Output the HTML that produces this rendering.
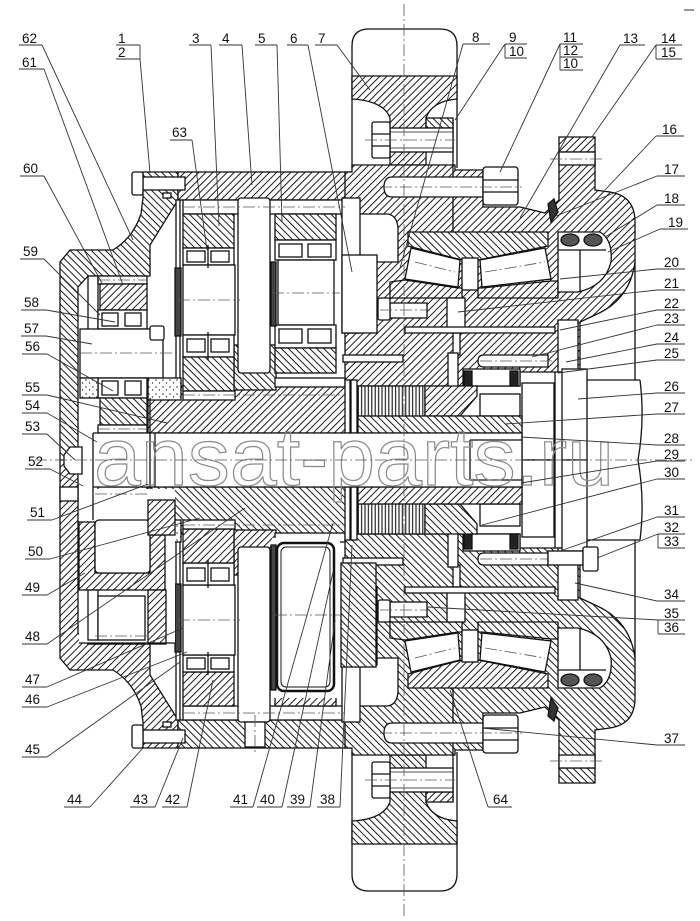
<!DOCTYPE html>
<html><head><meta charset="utf-8">
<style>
html,body{margin:0;padding:0;background:#fff;}
svg{display:block;}
.t text{font-family:"Liberation Sans",sans-serif;font-size:13.5px;fill:#111;stroke:none;}
.c{stroke:#555;stroke-width:0.8;stroke-dasharray:12 3 2 3;fill:none;}
</style></head><body>
<svg width="700" height="921" viewBox="0 0 700 921" xmlns="http://www.w3.org/2000/svg">
<defs>
<pattern id="h" width="5" height="5" patternUnits="userSpaceOnUse" patternTransform="rotate(45)"><rect width="5" height="5" fill="#fff"/><line x1="2.5" y1="-1" x2="2.5" y2="6" stroke="#1a1a1a" stroke-width="1"/></pattern>
<pattern id="k" width="5" height="5" patternUnits="userSpaceOnUse" patternTransform="rotate(-45)"><rect width="5" height="5" fill="#fff"/><line x1="2.5" y1="-1" x2="2.5" y2="6" stroke="#1a1a1a" stroke-width="1"/></pattern>
<pattern id="v" width="3.4" height="10" patternUnits="userSpaceOnUse"><rect width="3.4" height="10" fill="#fff"/><line x1="1.2" y1="0" x2="1.2" y2="10" stroke="#111" stroke-width="1.1"/></pattern>
<pattern id="dt" width="7" height="7" patternUnits="userSpaceOnUse"><rect width="7" height="7" fill="#fff"/><circle cx="2" cy="2" r="0.8" fill="#333"/><circle cx="5.5" cy="5" r="0.7" fill="#333"/></pattern>
</defs>
<rect width="700" height="921" fill="#fff"/>

<g id="top" stroke="#111" stroke-width="1.3">
<path d="M352,168 L352,46 Q352,29 369,29 L440,29 Q457,29 457,46 L457,168" fill="#fff"/>
<path d="M352,76 L457,76 L457,99 Q432,101 426,118 L426,165 L390,165 L390,118 Q384,101 352,99 Z" fill="url(#h)"/>
<path d="M60,460 L60,262 L70,250 L113,250 Q133,238 141,214 L143,198 L143,172 L178,172 L178,200 L150,245 L150,276 L88,276 L78,287 L78,460 Z" fill="url(#k)"/>
<rect x="178" y="172" width="176" height="28" fill="url(#h)"/>
<path d="M345,172 L352,172 L352,165 L455,165 L455,170 L483,170 L483,207 L520,207 L545,213 L559,200 L559,137 L595,137 L595,190 L610,192 Q635,196 635,222 L635,262 Q630,300 595,315 L580,322 L580,372 L520,372 L520,386 L345,386 Z" fill="url(#h)"/>
<line x1="559" y1="152" x2="595" y2="152"/>
<rect x="559" y="152" width="36" height="13" fill="#fff"/>
<line x1="453" y1="120" x2="453" y2="232"/>
<rect x="426" y="118" width="27" height="10" fill="url(#k)"/>
<rect x="390" y="128" width="63" height="24" fill="#fff"/>
<line x1="390" y1="132" x2="453" y2="132" stroke-width="0.7"/>
<line x1="390" y1="148" x2="453" y2="148" stroke-width="0.7"/>
<rect x="372" y="122" width="18" height="36" rx="2" fill="#fff"/>
<line x1="372" y1="134" x2="390" y2="134"/><line x1="372" y1="146" x2="390" y2="146"/>
<path d="M392,177 L483,177 L483,197 L392,197 Q384,197 384,187 Q384,177 392,177 Z" fill="#fff"/>
<rect x="483" y="167" width="35" height="38" rx="3" fill="#fff"/>
<line x1="483" y1="180" x2="518" y2="180"/><line x1="483" y1="192" x2="518" y2="192"/>
<path d="M358,214 L388,214 Q398,216 398,230 L398,262 L358,262 Z" fill="#fff"/>
<polygon points="408,232 548,232 548,246 478,260 462,260 408,246" fill="url(#k)"/>
<polygon points="411,248 460,260 458,287 405,279" fill="#fff"/>
<polygon points="480,260 545,248 551,279 482,287" fill="#fff"/>
<rect x="462" y="258" width="16" height="32" fill="#fff"/>
<polygon points="390,282 405,280 458,288 462,288 462,298 390,298" fill="url(#h)"/>
<polygon points="478,288 482,288 551,281 558,281 558,298 478,298" fill="url(#h)"/>
<path d="M558,232 L600,232 Q613,240 611,262 Q605,286 578,292 L558,292 Z" fill="#fff"/>
<line x1="558" y1="250" x2="606" y2="250"/>
<line x1="580" y1="250" x2="580" y2="291"/>
<ellipse cx="570" cy="240" rx="9" ry="6" fill="#555"/>
<ellipse cx="593" cy="240" rx="9" ry="6" fill="#555"/>
<polygon points="548,204 554,199 558,212 551,222" fill="#333"/>
<rect x="390" y="303" width="37" height="15" fill="#fff"/>
<rect x="378" y="298" width="12" height="22" rx="2" fill="#fff"/>
<rect x="447" y="298" width="18" height="35" fill="#fff"/>
<rect x="453" y="333" width="7" height="22" fill="#fff"/>
<rect x="405" y="327" width="150" height="6" fill="#fff"/>
<rect x="343" y="355" width="60" height="7" fill="#fff"/>
<path d="M484,355 L548,355 L548,367 L484,367 Q478,367 478,361 Q478,355 484,355 Z" fill="#fff"/>
<rect x="558" y="320" width="20" height="52" fill="#fff"/>
<rect x="448" y="353" width="10" height="35" fill="#fff"/>
<rect x="463" y="369" width="57" height="17" fill="#fff"/>
<rect x="464" y="371" width="8" height="15" fill="#222"/>
<rect x="510" y="371" width="8" height="15" fill="#222"/>
<rect x="522" y="383" width="32" height="77" fill="#fff"/>
<line x1="555" y1="372" x2="555" y2="460"/>
<rect x="562" y="369" width="25" height="91" fill="#fff"/>
<line x1="587" y1="380" x2="640" y2="380"/>
<path d="M640,380 Q645,420 638,460" fill="none"/>
<line x1="635" y1="262" x2="635" y2="380"/>
<rect x="148" y="386" width="210" height="47" fill="url(#h)"/>
<rect x="234" y="345" width="42" height="45" fill="url(#k)"/>
<rect x="176" y="200" width="4" height="186" fill="#fff"/>
<rect x="183" y="200" width="162" height="14" fill="#fff"/>
<rect x="183" y="214" width="51" height="34" fill="url(#k)"/>
<rect x="183" y="248" width="51" height="17" fill="#fff"/>
<rect x="187" y="251" width="18" height="11" fill="#fff"/><rect x="211" y="251" width="18" height="11" fill="#fff"/>
<rect x="183" y="265" width="52" height="70" fill="#fff"/>
<rect x="183" y="335" width="51" height="22" fill="#fff"/>
<rect x="187" y="339" width="18" height="13" fill="#fff"/><rect x="211" y="339" width="18" height="13" fill="#fff"/>
<rect x="183" y="357" width="51" height="34" fill="url(#k)"/>
<rect x="183" y="391" width="52" height="9" fill="#fff"/>
<rect x="175" y="268" width="6" height="68" fill="#444"/>
<line x1="208" y1="245" x2="208" y2="268"/><line x1="208" y1="332" x2="208" y2="360"/>
<rect x="238" y="198" width="32" height="175" rx="3" fill="#fff"/>
<rect x="275" y="214" width="61" height="26" fill="url(#k)"/>
<rect x="275" y="240" width="61" height="20" fill="#fff"/>
<rect x="279" y="244" width="23" height="13" fill="#fff"/><rect x="308" y="244" width="23" height="13" fill="#fff"/>
<rect x="278" y="260" width="56" height="65" fill="#fff"/>
<rect x="275" y="325" width="61" height="23" fill="#fff"/>
<rect x="279" y="329" width="23" height="14" fill="#fff"/><rect x="308" y="329" width="23" height="14" fill="#fff"/>
<rect x="275" y="348" width="61" height="25" fill="url(#k)"/>
<rect x="275" y="378" width="70" height="9" fill="#fff"/>
<rect x="271" y="262" width="5" height="64" fill="#444"/>
<rect x="342" y="198" width="18" height="135" fill="#fff"/>
<rect x="342" y="255" width="35" height="78" fill="#fff"/>
<rect x="345" y="380" width="5" height="53" fill="#fff"/>
<rect x="351" y="380" width="6" height="53" fill="#fff"/>
<rect x="358" y="386" width="67" height="32" fill="url(#v)"/>
<polygon points="425,386 477,386 477,396 460,416 425,416" fill="url(#h)"/>
<rect x="480" y="394" width="40" height="22" fill="#fff"/>
<rect x="358" y="416" width="164" height="17" fill="url(#k)"/>
<rect x="88" y="276" width="10" height="54" fill="#fff"/>
<rect x="98" y="276" width="49" height="8" fill="#fff"/>
<rect x="100" y="284" width="47" height="26" fill="url(#h)"/>
<rect x="98" y="310" width="49" height="19" fill="#fff"/>
<rect x="102" y="313" width="16" height="13" fill="#fff"/><rect x="125" y="313" width="16" height="13" fill="#fff"/>
<rect x="80" y="329" width="83" height="49" fill="#fff"/>
<rect x="150" y="326" width="14" height="14" rx="2" fill="#fff"/>
<rect x="98" y="378" width="49" height="20" fill="#fff"/>
<rect x="102" y="381" width="16" height="14" fill="#fff"/><rect x="125" y="381" width="16" height="14" fill="#fff"/>
<rect x="80" y="378" width="18" height="20" fill="url(#dt)"/>
<rect x="148" y="378" width="33" height="22" fill="url(#dt)"/>
<rect x="100" y="398" width="47" height="27" fill="url(#k)"/>
<rect x="98" y="425" width="49" height="8" fill="#fff"/>
<rect x="143" y="177" width="42" height="13" fill="#fff"/>
<rect x="132" y="172" width="11" height="23" rx="2" fill="#fff"/>
<rect x="163" y="193" width="8" height="5" fill="#fff"/>
<rect x="93" y="433" width="429" height="27" fill="#fff" stroke="none"/>
<line x1="93" y1="433" x2="522" y2="433"/>
<line x1="522" y1="433" x2="522" y2="460"/>
<line x1="93" y1="433" x2="93" y2="460"/>
<line x1="150" y1="398" x2="150" y2="460"/>
<line x1="155" y1="433" x2="155" y2="460"/>
<line x1="470" y1="440" x2="470" y2="460"/>
<line x1="470" y1="440" x2="522" y2="440"/>
<line class="c" x1="183" y1="207" x2="345" y2="207"/>
<line class="c" x1="98" y1="280" x2="147" y2="280"/>
<line class="c" x1="178" y1="300" x2="240" y2="300"/>
<line class="c" x1="272" y1="293" x2="340" y2="293"/>
<line class="c" x1="80" y1="353" x2="178" y2="353"/>
<line class="c" x1="98" y1="429" x2="147" y2="429"/>
<line class="c" x1="183" y1="395" x2="345" y2="395"/>
<line class="c" x1="550" y1="159" x2="605" y2="159"/>
<line class="c" x1="365" y1="140" x2="455" y2="140"/>
<line class="c" x1="380" y1="187" x2="522" y2="187"/>
<line class="c" x1="380" y1="310" x2="430" y2="310"/>
<line class="c" x1="480" y1="361" x2="552" y2="361"/>
<line class="c" x1="415" y1="262" x2="455" y2="272"/>
<line class="c" x1="485" y1="272" x2="545" y2="262"/>
</g>
<use href="#top" transform="matrix(1,0,0,-1,0,920)"/>

<g stroke="#111" stroke-width="1.3">
<rect x="79" y="489" width="96" height="154" fill="#fff" stroke="none"/>
<path d="M79,522 L95,522 L95,573 L150,573 L150,535 L165,535 L165,590 L79,590 Z" fill="url(#h)"/>
<rect x="95" y="520" width="55" height="53" rx="4" fill="#fff"/>
<rect x="148" y="500" width="27" height="35" fill="url(#h)"/>
<line x1="93" y1="487" x2="93" y2="520"/>
<line class="c" x1="95" y1="494" x2="150" y2="494"/>
<rect x="88" y="590" width="10" height="50" fill="#fff"/>
<rect x="98" y="596" width="47" height="44" fill="#fff"/>
<line class="c" x1="95" y1="636" x2="150" y2="636"/>
<rect x="148" y="590" width="18" height="54" fill="url(#h)"/>
<line x1="79" y1="643" x2="175" y2="643"/>
<rect x="272" y="538" width="68" height="160" fill="#fff" stroke="none"/>
<rect x="271" y="545" width="5" height="145" fill="#444"/>
<rect x="277" y="543" width="57" height="148" rx="7" fill="#fff" stroke-width="2.5"/>
<rect x="281" y="547" width="49" height="140" rx="5" fill="none" stroke-width="1"/>
<line class="c" x1="275" y1="615" x2="340" y2="615"/>
<rect x="341" y="563" width="35" height="104" fill="url(#k)"/>
<rect x="548" y="551" width="35" height="14" fill="#fff"/>
<rect x="583" y="547" width="15" height="24" rx="2" fill="#fff"/>
<rect x="245" y="722" width="20" height="25" fill="#fff"/>
<line class="c" x1="255" y1="715" x2="255" y2="752"/>
<path d="M82,447 L70,447 L64,455 L64,466 L70,474 L82,474 Z" fill="#fff"/>
<rect x="60" y="487" width="18" height="14" fill="#fff"/>
</g>

<text x="94" y="485" font-family="Liberation Sans, sans-serif" font-size="82" textLength="520" lengthAdjust="spacingAndGlyphs" fill="none" stroke="#8a8a8a" stroke-width="1.2">ansat-parts.ru</text>

<line class="c" x1="35" y1="460" x2="692" y2="460"/>
<line class="c" x1="404" y1="4" x2="404" y2="918"/>
<line x1="684" y1="10" x2="694" y2="10" stroke="#333" stroke-width="1"/>

<g class="t" stroke="#333" stroke-width="0.9" fill="none">
<text x="22" y="43">62</text><line x1="19" y1="45" x2="42" y2="45"/><line x1="42" y1="45" x2="133" y2="240"/>
<text x="22" y="67">61</text><line x1="19" y1="69" x2="44" y2="69"/><line x1="44" y1="69" x2="123" y2="285"/>
<text x="23" y="173">60</text><line x1="20" y1="176" x2="44" y2="176"/><line x1="44" y1="176" x2="103" y2="285"/>
<text x="23" y="256">59</text><line x1="20" y1="259" x2="44" y2="259"/><line x1="44" y1="259" x2="100" y2="315"/>
<text x="24" y="307">58</text><line x1="21" y1="310" x2="46" y2="310"/><line x1="46" y1="310" x2="115" y2="322"/>
<text x="24" y="333">57</text><line x1="21" y1="336" x2="46" y2="336"/><line x1="46" y1="336" x2="92" y2="344"/>
<text x="25" y="351">56</text><line x1="22" y1="354" x2="47" y2="354"/><line x1="47" y1="354" x2="113" y2="391"/>
<text x="25" y="392">55</text><line x1="22" y1="395" x2="47" y2="395"/><line x1="47" y1="395" x2="167" y2="423"/>
<text x="25" y="410">54</text><line x1="22" y1="413" x2="47" y2="413"/><line x1="47" y1="413" x2="97" y2="442"/>
<text x="25" y="431">53</text><line x1="22" y1="434" x2="47" y2="434"/><line x1="47" y1="434" x2="75" y2="460"/>
<text x="28" y="466">52</text><line x1="25" y1="469" x2="50" y2="469"/><line x1="50" y1="469" x2="83" y2="486"/>
<text x="30" y="517">51</text><line x1="27" y1="520" x2="52" y2="520"/><line x1="52" y1="520" x2="148" y2="484"/>
<text x="28" y="556">50</text><line x1="25" y1="559" x2="50" y2="559"/><line x1="50" y1="559" x2="200" y2="518"/>
<text x="25" y="592">49</text><line x1="22" y1="595" x2="47" y2="595"/><line x1="47" y1="595" x2="85" y2="573"/>
<text x="25" y="641">48</text><line x1="22" y1="644" x2="47" y2="644"/><line x1="47" y1="644" x2="245" y2="508"/>
<text x="25" y="684">47</text><line x1="22" y1="687" x2="47" y2="687"/><line x1="47" y1="687" x2="183" y2="628"/>
<text x="25" y="704">46</text><line x1="22" y1="707" x2="47" y2="707"/><line x1="47" y1="707" x2="187" y2="652"/>
<text x="25" y="754">45</text><line x1="22" y1="757" x2="47" y2="757"/><line x1="47" y1="757" x2="180" y2="662"/>
<text x="118" y="43">1</text><line x1="116" y1="45" x2="140" y2="45"/>
<text x="118" y="57">2</text><line x1="116" y1="59" x2="140" y2="59"/><line x1="140" y1="45" x2="140" y2="59"/><line x1="140" y1="59" x2="150" y2="173"/>
<text x="192" y="43">3</text><line x1="189" y1="45" x2="211" y2="45"/><line x1="211" y1="45" x2="219" y2="226"/>
<text x="222" y="43">4</text><line x1="219" y1="45" x2="242" y2="45"/><line x1="242" y1="45" x2="252" y2="185"/>
<text x="258" y="43">5</text><line x1="255" y1="45" x2="277" y2="45"/><line x1="277" y1="45" x2="282" y2="222"/>
<text x="290" y="43">6</text><line x1="287" y1="45" x2="308" y2="45"/><line x1="308" y1="45" x2="352" y2="272"/>
<text x="318" y="43">7</text><line x1="315" y1="45" x2="337" y2="45"/><line x1="337" y1="45" x2="370" y2="90"/>
<text x="172" y="137">63</text><line x1="170" y1="140" x2="192" y2="140"/><line x1="192" y1="140" x2="207" y2="250"/>
<text x="472" y="42">8</text><line x1="463" y1="44" x2="490" y2="44"/><line x1="463" y1="44" x2="400" y2="268"/>
<text x="509" y="42">9</text><line x1="505" y1="44" x2="527" y2="44"/>
<text x="509" y="56">10</text><line x1="505" y1="58" x2="527" y2="58"/><line x1="505" y1="44" x2="505" y2="58"/><line x1="505" y1="44" x2="455" y2="120"/>
<text x="563" y="42">11</text><line x1="560" y1="44" x2="583" y2="44"/>
<text x="563" y="55">12</text><line x1="560" y1="57" x2="583" y2="57"/>
<text x="563" y="68">10</text><line x1="560" y1="70" x2="583" y2="70"/><line x1="560" y1="44" x2="560" y2="70"/><line x1="560" y1="44" x2="500" y2="172"/>
<text x="623" y="43">13</text><line x1="620" y1="45" x2="645" y2="45"/><line x1="620" y1="45" x2="520" y2="218"/>
<text x="661" y="43">14</text><line x1="656" y1="45" x2="682" y2="45"/>
<text x="661" y="57">15</text><line x1="656" y1="59" x2="682" y2="59"/><line x1="656" y1="45" x2="656" y2="59"/><line x1="656" y1="45" x2="592" y2="137"/>
<text x="662" y="134">16</text><line x1="656" y1="136" x2="684" y2="136"/><line x1="656" y1="136" x2="605" y2="190"/>
<text x="664" y="174">17</text><line x1="657" y1="176" x2="685" y2="176"/><line x1="657" y1="176" x2="556" y2="216"/>
<text x="664" y="203">18</text><line x1="657" y1="205" x2="685" y2="205"/><line x1="657" y1="205" x2="605" y2="237"/>
<text x="668" y="227">19</text><line x1="660" y1="229" x2="688" y2="229"/><line x1="660" y1="229" x2="608" y2="252"/>
<text x="664" y="267">20</text><line x1="657" y1="269" x2="685" y2="269"/><line x1="657" y1="269" x2="560" y2="279"/>
<text x="664" y="288">21</text><line x1="657" y1="290" x2="685" y2="290"/><line x1="657" y1="290" x2="458" y2="312"/>
<text x="664" y="308">22</text><line x1="657" y1="310" x2="685" y2="310"/><line x1="657" y1="310" x2="560" y2="330"/>
<text x="664" y="323">23</text><line x1="657" y1="325" x2="685" y2="325"/><line x1="657" y1="325" x2="532" y2="357"/>
<text x="664" y="342">24</text><line x1="657" y1="344" x2="685" y2="344"/><line x1="657" y1="344" x2="566" y2="362"/>
<text x="664" y="358">25</text><line x1="657" y1="360" x2="685" y2="360"/><line x1="657" y1="360" x2="558" y2="373"/>
<text x="664" y="391">26</text><line x1="657" y1="393" x2="685" y2="393"/><line x1="657" y1="393" x2="578" y2="399"/>
<text x="664" y="412">27</text><line x1="657" y1="414" x2="685" y2="414"/><line x1="657" y1="414" x2="505" y2="424"/>
<text x="664" y="443">28</text><line x1="657" y1="445" x2="685" y2="445"/><line x1="657" y1="445" x2="521" y2="437"/>
<text x="664" y="459">29</text><line x1="657" y1="461" x2="685" y2="461"/><line x1="657" y1="461" x2="521" y2="483"/>
<text x="664" y="477">30</text><line x1="657" y1="479" x2="685" y2="479"/><line x1="657" y1="479" x2="482" y2="525"/>
<text x="664" y="515">31</text><line x1="657" y1="517" x2="685" y2="517"/><line x1="657" y1="517" x2="563" y2="550"/>
<text x="664" y="532">32</text><line x1="658" y1="534" x2="685" y2="534"/>
<text x="664" y="546">33</text><line x1="658" y1="548" x2="685" y2="548"/><line x1="658" y1="534" x2="658" y2="548"/><line x1="658" y1="534" x2="597" y2="558"/>
<text x="664" y="599">34</text><line x1="657" y1="601" x2="685" y2="601"/><line x1="657" y1="601" x2="575" y2="583"/>
<text x="664" y="618">35</text><line x1="658" y1="620" x2="685" y2="620"/>
<text x="664" y="632">36</text><line x1="658" y1="634" x2="685" y2="634"/><line x1="658" y1="620" x2="658" y2="634"/><line x1="658" y1="620" x2="427" y2="607"/>
<text x="664" y="743">37</text><line x1="657" y1="745" x2="685" y2="745"/><line x1="657" y1="745" x2="482" y2="728"/>
<text x="67" y="804">44</text><line x1="64" y1="807" x2="90" y2="807"/><line x1="90" y1="807" x2="143" y2="748"/>
<text x="133" y="804">43</text><line x1="130" y1="807" x2="155" y2="807"/><line x1="155" y1="807" x2="183" y2="738"/>
<text x="165" y="804">42</text><line x1="162" y1="807" x2="187" y2="807"/><line x1="187" y1="807" x2="213" y2="680"/>
<text x="233" y="804">41</text><line x1="230" y1="807" x2="253" y2="807"/><line x1="253" y1="807" x2="333" y2="523"/>
<text x="260" y="804">40</text><line x1="257" y1="807" x2="282" y2="807"/><line x1="282" y1="807" x2="333" y2="572"/>
<text x="290" y="804">39</text><line x1="287" y1="807" x2="310" y2="807"/><line x1="310" y1="807" x2="335" y2="620"/>
<text x="320" y="804">38</text><line x1="317" y1="807" x2="340" y2="807"/><line x1="340" y1="807" x2="352" y2="545"/>
<text x="493" y="804">64</text><line x1="488" y1="807" x2="512" y2="807"/><line x1="488" y1="807" x2="450" y2="690"/>
</g>
</svg>
</body></html>
